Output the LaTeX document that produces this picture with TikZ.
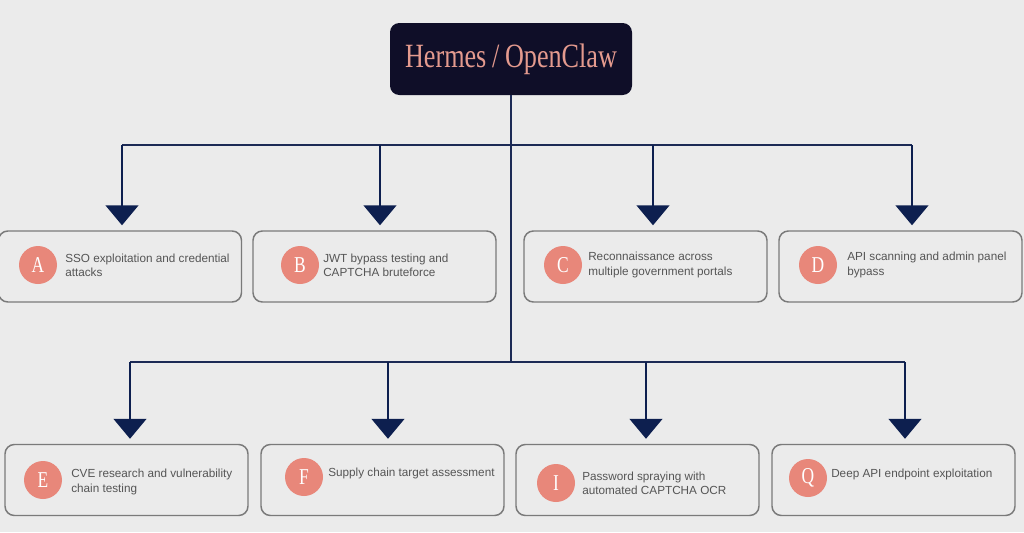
\documentclass[tikz,border=0pt]{standalone}
\usepackage{fontspec}
\setmainfont{Liberation Sans}
\newfontfamily\titlefont[FakeStretch=0.77]{Liberation Serif}
\usetikzlibrary{arrows.meta}
\definecolor{bgc}{HTML}{EBEBEB}
\definecolor{navy}{HTML}{0F0E28}
\definecolor{linec}{HTML}{1C2A55}
\definecolor{tipc}{HTML}{0D1F4F}
\definecolor{salmon}{HTML}{E8877A}
\definecolor{titletext}{HTML}{E49A8E}
\definecolor{boxline}{HTML}{7A7A7A}
\definecolor{txt}{HTML}{555555}
\tikzset{
  card/.style={draw=boxline, line width=1.1pt, rounded corners=7pt, fill=bgc,
    minimum width=243*0.75pt, minimum height=71*0.75pt, inner sep=0pt},
  badge/.style={circle, fill=salmon, minimum size=38*0.75pt, inner sep=0pt,
    text=white, font=\titlefont\fontsize{17}{17}\selectfont},
  label/.style={anchor=west, inner sep=0pt, align=left, text=txt,
    font=\fontsize{8.8}{10.6}\selectfont},
  conn/.style={draw=linec, line width=1.2pt},
  arr/.style={conn, -{Triangle[width=33*0.75pt, length=20*0.75pt]}, shorten >=5*0.75pt, tipc}
}
\begin{document}
\begin{tikzpicture}[x=0.75pt, y=-0.75pt]
\useasboundingbox (0,0) rectangle (1024,532);
\fill[bgc] (0,0) rectangle (1024,532);

% title
\node[fill=navy, rounded corners=7pt, minimum width=242*0.75pt, minimum height=72*0.75pt,
  inner sep=0pt, text=titletext, font=\titlefont\fontsize{25.5}{25.5}\selectfont]
  (top) at (511,59) {Hermes\,/\,OpenClaw};

% cards row 1
\node[card] (A) at (120,266.5) {};
\node[card] (B) at (374.5,266.5) {};
\node[card] (C) at (645.5,266.5) {};
\node[card] (D) at (900.5,266.5) {};
% cards row 2
\node[card] (E) at (126.5,480) {};
\node[card] (F) at (382.5,480) {};
\node[card] (I) at (637.5,480) {};
\node[card] (Q) at (893.5,480) {};

% badges
\node[badge] (bA) at (38,265) {A};
\node[badge] (bB) at (300,265) {B};
\node[badge] (bC) at (563,265) {C};
\node[badge] (bD) at (818,265) {D};
\node[badge] (bE) at (43,480) {E};
\node[badge] (bF) at (304,477) {F};
\node[badge] (bI) at (556,483) {I};
\node[badge] (bQ) at (808,478) {Q};

% labels
\node[label] (tA) at (65,265) {SSO exploitation and credential\\attacks};
\node[label] (tB) at (323,265) {JWT bypass testing and\\CAPTCHA bruteforce};
\node[label] (tC) at (588,265) {Reconnaissance across\\multiple government portals};
\node[label] (tD) at (847,265) {API scanning and admin panel\\bypass};
\node[label] (tE) at (71,482) {CVE research and vulnerability\\chain testing};
\node[label] (tF) at (328,473) {Supply chain target assessment};
\node[label] (tI) at (582,483) {Password spraying with\\automated CAPTCHA OCR};
\node[label] (tQ) at (831,474) {Deep API endpoint exploitation};

% junctions
\coordinate (m1) at (511,145);
\coordinate (m2) at (511,362);
\coordinate (jA) at (122,145);
\coordinate (jB) at (380,145);
\coordinate (jC) at (653,145);
\coordinate (jD) at (912,145);
\coordinate (jE) at (130,362);
\coordinate (jF) at (388,362);
\coordinate (jI) at (646,362);
\coordinate (jQ) at (905,362);

\draw[conn] (top.south) -- (m2);
\draw[conn] (jA) -- (jD);
\draw[conn] (jE) -- (jQ);

\draw[arr] (jA) -- (jA |- A.north);
\draw[arr] (jB) -- (jB |- B.north);
\draw[arr] (jC) -- (jC |- C.north);
\draw[arr] (jD) -- (jD |- D.north);
\draw[arr] (jE) -- (jE |- E.north);
\draw[arr] (jF) -- (jF |- F.north);
\draw[arr] (jI) -- (jI |- I.north);
\draw[arr] (jQ) -- (jQ |- Q.north);
\end{tikzpicture}
\end{document}
